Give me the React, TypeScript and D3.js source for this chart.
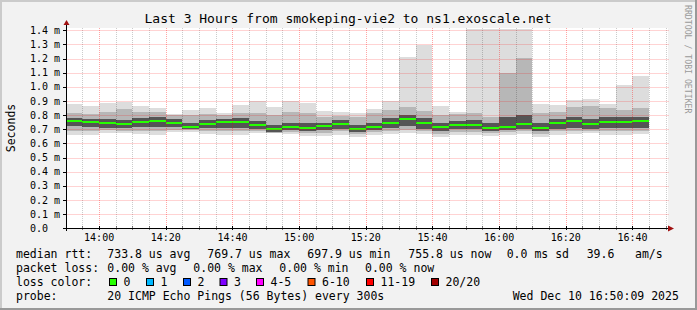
import React from "react";
import * as d3 from "d3";

// ---------- data ----------
const bucketStart = [
  "13:50", "13:55", "14:00", "14:05", "14:10", "14:15", "14:20", "14:25", "14:30", "14:35",
  "14:40", "14:45", "14:50", "14:55", "15:00", "15:05", "15:10", "15:15", "15:20", "15:25",
  "15:30", "15:35", "15:40", "15:45", "15:50", "15:55", "16:00", "16:05", "16:10", "16:15",
  "16:20", "16:25", "16:30", "16:35", "16:40",
];

// values in milliseconds
const median = [
  0.761, 0.752, 0.747, 0.740, 0.752, 0.761, 0.747, 0.719, 0.740, 0.752,
  0.752, 0.733, 0.699, 0.719, 0.712, 0.723, 0.740, 0.699, 0.719, 0.747,
  0.770, 0.747, 0.719, 0.733, 0.733, 0.712, 0.719, 0.735, 0.712, 0.742,
  0.761, 0.740, 0.754, 0.754, 0.757,
];
const smokeMax = [
  0.878, 0.865, 0.888, 0.893, 0.865, 0.851, 0.808, 0.837, 0.851, 0.813,
  0.874, 0.902, 0.856, 0.902, 0.888, 0.827, 0.822, 0.813, 0.844, 0.900,
  1.209, 1.296, 0.865, 0.822, 1.412, 1.412, 1.412, 1.412, 0.879, 0.872,
  0.908, 0.914, 0.879, 1.013, 1.077,
];
const smokeHigh = [
  0.813, 0.808, 0.822, 0.842, 0.822, 0.822, 0.799, 0.804, 0.808, 0.804,
  0.813, 0.818, 0.804, 0.822, 0.813, 0.790, 0.794, 0.790, 0.813, 0.837,
  0.856, 0.827, 0.799, 0.808, 0.813, 0.790, 1.100, 1.205, 0.813, 0.822,
  0.860, 0.865, 0.851, 0.837, 0.849,
];
const smokeUpper = [
  0.782, 0.775, 0.772, 0.768, 0.778, 0.785, 0.770, 0.748, 0.768, 0.775,
  0.778, 0.762, 0.728, 0.748, 0.742, 0.748, 0.765, 0.728, 0.748, 0.778,
  0.800, 0.778, 0.745, 0.760, 0.765, 0.745, 0.790, 0.800, 0.742, 0.770,
  0.790, 0.772, 0.785, 0.785, 0.788,
];
const smokeLower = [
  0.720, 0.715, 0.712, 0.708, 0.715, 0.718, 0.715, 0.700, 0.708, 0.712,
  0.712, 0.705, 0.684, 0.695, 0.688, 0.695, 0.705, 0.683, 0.695, 0.708,
  0.720, 0.705, 0.690, 0.700, 0.700, 0.690, 0.695, 0.702, 0.685, 0.705,
  0.712, 0.705, 0.712, 0.712, 0.712,
];
const smokeLow = [
  0.690, 0.688, 0.692, 0.690, 0.690, 0.690, 0.698, 0.695, 0.690, 0.688,
  0.688, 0.690, 0.677, 0.680, 0.672, 0.675, 0.685, 0.665, 0.680, 0.688,
  0.695, 0.688, 0.668, 0.682, 0.682, 0.672, 0.680, 0.685, 0.668, 0.685,
  0.690, 0.690, 0.688, 0.688, 0.690,
];
const smokeMin = [
  0.660, 0.660, 0.672, 0.672, 0.667, 0.660, 0.683, 0.683, 0.667, 0.660,
  0.660, 0.676, 0.672, 0.667, 0.655, 0.653, 0.662, 0.643, 0.660, 0.667,
  0.672, 0.667, 0.643, 0.660, 0.660, 0.653, 0.660, 0.667, 0.648, 0.660,
  0.667, 0.672, 0.660, 0.660, 0.667,
];

const xTickLabels = ["14:00", "14:20", "14:40", "15:00", "15:20", "15:40", "16:00", "16:20", "16:40"];
const yTickValues = [0, 0.1, 0.2, 0.3, 0.4, 0.5, 0.6, 0.7, 0.8, 0.9, 1.0, 1.1, 1.2, 1.3, 1.4];
const yTickLabels = ["0.0", "0.1 m", "0.2 m", "0.3 m", "0.4 m", "0.5 m", "0.6 m", "0.7 m", "0.8 m", "0.9 m", "1.0 m", "1.1 m", "1.2 m", "1.3 m", "1.4 m"];

const titleText = "Last 3 Hours from smokeping-vie2 to ns1.exoscale.net";
const rttRow = ["median rtt:", "733.8 us avg", "769.7 us max", "697.9 us min", "755.8 us now", "0.0 ms sd", "39.6", "am/s"];
const lossRow = ["packet loss:", "0.00 % avg", "0.00 % max", "0.00 % min", "0.00 % now"];
const lossLabels = ["0", "1", "2", "3", "4-5", "6-10", "11-19", "20/20"];
const lossColors = ["#26ff00", "#00b8ff", "#0059ff", "#7e00ff", "#ff00ff", "#ff5500", "#ff0000", "#a10000"];
const probeRow = ["probe:", "20 ICMP Echo Pings (56 Bytes) every 300s", "Wed Dec 10 16:50:09 2025"];

// ---------- layout ----------
const W = 697, H = 310;
const PL = 66.5, PR = 666.5, PT = 28, PB = 228.3;
const FONT = "'DejaVu Sans Mono', monospace";
const rttX = [16, 107.3, 207.3, 307.3, 408.3, 506.7, 586.7, 635];
const lossX = [16, 107.3, 193.3, 279.3, 365];
const boxX = [109, 146, 183, 219.5, 256, 307.5, 366, 431];
const probeX = [16, 107.3, 512.7];

const toMin = (s: string) => {
  const [h, m] = s.split(":").map(Number);
  return h * 60 + m;
};

export default function App() {
  const t0 = 13 * 60 + 50 + 9 / 60;
  const x = d3.scaleLinear().domain([t0, t0 + 180]).range([66.3, 666.3]);
  const y = d3.scaleLinear().domain([0, 1.4]).range([PB, 30.3]);

  const bars = bucketStart.map((s, i) => {
    const a = Math.max(PL, x(toMin(s)));
    const b = Math.min(PR, x(toMin(s) + 5));
    return { a, b, i };
  });

  const band = (lo: number[], hi: number[], color: string, key: string) =>
    bars.map(({ a, b, i }) => {
      const top = Math.max(PT, y(hi[i]));
      return (
        <rect key={key + i} x={a} width={b - a} y={top} height={y(lo[i]) - top} fill={color} shapeRendering="crispEdges" />
      );
    });

  const majorTimes = xTickLabels.map(toMin);
  const minorTimes = d3.range(13 * 60 + 55, 16 * 60 + 51, 5).filter((t) => !majorTimes.includes(t) && x(t) < PR);

  return (
    <svg width={W} height={H} style={{ position: "fixed", left: 0, top: 0 }} fontFamily={FONT}>
      <rect x={0} y={0} width={W} height={H} fill="#f2f2f2" />
      <rect x={0} y={0} width={W} height={2} fill="#cbcbcb" />
      <rect x={0} y={0} width={2} height={H} fill="#cbcbcb" />
      <rect x={0} y={H - 2} width={W} height={2} fill="#999999" />
      <rect x={W - 2} y={0} width={2} height={H} fill="#999999" />

      <text x={348} y={23} fontSize={13} textAnchor="middle" fill="#000">{titleText}</text>
      <text x={0} y={0} fontSize={8.2} fill="#9a9a9a" transform="translate(685,5) rotate(90)">RRDTOOL / TOBI OETIKER</text>
      <text x={0} y={0} fontSize={11.5} textAnchor="middle" fill="#000" transform="translate(14.5,128) rotate(-90)">Seconds</text>

      {/* canvas */}
      <rect x={PL} y={PT} width={PR - PL + 1.5} height={PB - PT} fill="#ffffff" />

      {/* smoke */}
      {band(smokeMin, smokeMax, "#dddddd", "a")}
      {band(smokeLow, smokeHigh, "#b7b7b7", "b")}
      {band(smokeLower, smokeUpper, "#555555", "c")}
      {/* median */}
      {bars.map(({ a, b, i }) => (
        <rect key={"m" + i} x={a} width={b - a} y={y(median[i]) - 1} height={2} fill={lossColors[0]} shapeRendering="crispEdges" />
      ))}

      {/* grid */}
      {minorTimes.map((t) => (
        <line key={"vg" + t} x1={Math.round(x(t)) + 0.5} x2={Math.round(x(t)) + 0.5} y1={PT} y2={PB} stroke="#000" strokeOpacity={0.2} strokeDasharray="1,1" />
      ))}
      {yTickValues.slice(1).map((v) => (
        <line key={"hg" + v} x1={PL} x2={669} y1={Math.round(y(v)) + 0.5} y2={Math.round(y(v)) + 0.5} stroke="#ff0000" strokeOpacity={0.35} strokeDasharray="1,1" />
      ))}
      {majorTimes.map((t) => (
        <line key={"mg" + t} x1={Math.round(x(t)) + 0.5} x2={Math.round(x(t)) + 0.5} y1={PT} y2={PB} stroke="#ff0000" strokeOpacity={0.35} strokeDasharray="1,1" />
      ))}

      {/* axes */}
      <line x1={63} x2={670} y1={228.5} y2={228.5} stroke="#000" />
      <path d="M668,225.5 L674,228.5 L668,231.5 Z" fill="#a01010" />
      <line x1={66.5} x2={66.5} y1={231} y2={25} stroke="#000" />
      <path d="M63.5,25 L66.5,20 L69.5,25 Z" fill="#a01010" />
      {yTickValues.map((v) => (
        <line key={"yt" + v} x1={63} x2={66} y1={Math.round(y(v)) + 0.5} y2={Math.round(y(v)) + 0.5} stroke="#000" />
      ))}
      {minorTimes.concat(majorTimes).map((t) => (
        <line key={"xt" + t} x1={Math.round(x(t)) + 0.5} x2={Math.round(x(t)) + 0.5} y1={226} y2={230} stroke="#000" strokeOpacity={majorTimes.includes(t) ? 1 : 0.5} />
      ))}

      {yTickLabels.map((l, k) => (
        <text key={"yl" + k} x={30} y={y(yTickValues[k]) + 3.6} fontSize={10} fill="#000">{l}</text>
      ))}
      {xTickLabels.map((l) => (
        <text key={"xl" + l} x={x(toMin(l))} y={241.3} fontSize={10} textAnchor="middle" fill="#000">{l}</text>
      ))}

      {/* legend */}
      <g fontSize={11.5} fill="#000">
        {rttRow.map((s, k) => (
          <text key={"r" + k} x={rttX[k]} y={258}>{s}</text>
        ))}
        {lossRow.map((s, k) => (
          <text key={"l" + k} x={lossX[k]} y={272}>{s}</text>
        ))}
        <text x={16} y={286}>loss color:</text>
        {lossLabels.map((s, k) => (
          <g key={"c" + k}>
            <rect x={boxX[k] + 0.5} y={278.5} width={7} height={7} fill={lossColors[k]} stroke="#000" />
            <text x={boxX[k] + 14.5} y={286}>{s}</text>
          </g>
        ))}
        {probeRow.map((s, k) => (
          <text key={"p" + k} x={probeX[k]} y={300}>{s}</text>
        ))}
      </g>
    </svg>
  );
}
